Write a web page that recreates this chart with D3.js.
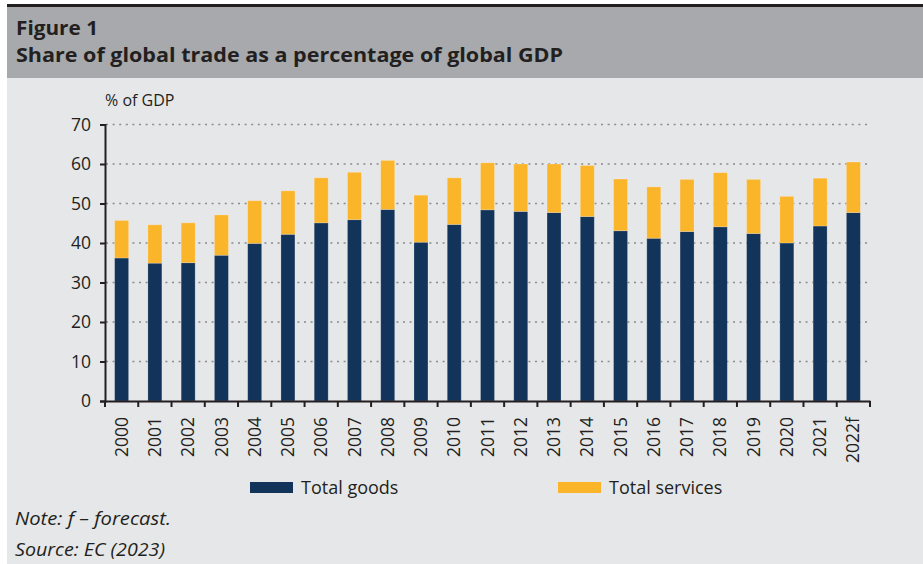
<!DOCTYPE html>
<html>
<head>
<meta charset="utf-8">
<script src="https://cdn.jsdelivr.net/npm/d3@7"></script>
<style>
  body { margin: 0; background: #fff; }
  svg { display: block; font-family: "Open Sans", sans-serif; }
</style>
</head>
<body>
<svg id="chart" width="923" height="564"></svg>
<script>
const years = ['2000', '2001', '2002', '2003', '2004', '2005', '2006', '2007', '2008', '2009', '2010', '2011',
  '2012', '2013', '2014', '2015', '2016', '2017', '2018', '2019', '2020', '2021', '2022f']
const goods = [36.2, 34.9, 35.0, 36.9, 39.9, 42.2, 45.1, 45.9, 48.5, 40.2, 44.7, 48.4,
  48.0, 47.7, 46.7, 43.1, 41.2, 42.9, 44.1, 42.4, 40.0, 44.3, 47.7]
const services = [9.5, 9.7, 10.1, 10.2, 10.8, 11.0, 11.4, 12.0, 12.4, 11.9, 11.8, 11.9,
  12.0, 12.3, 12.9, 13.1, 13.0, 13.2, 13.7, 13.7, 11.8, 12.1, 12.8]
const yTicks = [0, 10, 20, 30, 40, 50, 60, 70]
const seriesNames = ['Total goods', 'Total services']
const colors = ['#12345a', '#fbb52b']

const svg = d3.select('svg#chart')

// backgrounds
svg.append('rect').attr('x', 7).attr('y', 4).attr('width', 916).attr('height', 560).attr('fill', '#e6e7e8')
svg.append('rect').attr('x', 7).attr('y', 7).attr('width', 916).attr('height', 71).attr('fill', '#a7a9ac')
svg.append('rect').attr('x', 7).attr('y', 4).attr('width', 916).attr('height', 3).attr('fill', '#231f20')

svg.append('text').attr('x', 16).attr('y', 35)
  .attr('font-size', 20).attr('font-weight', 'bold').attr('fill', '#231f20')
  .attr('textLength', 82).attr('lengthAdjust', 'spacingAndGlyphs')
  .text('Figure 1')
svg.append('text').attr('x', 16).attr('y', 62)
  .attr('font-size', 20).attr('font-weight', 'bold').attr('fill', '#231f20')
  .attr('textLength', 547).attr('lengthAdjust', 'spacingAndGlyphs')
  .text('Share of global trade as a percentage of global GDP')

const rows = years.map((y, i) => ({ year: y, goods: goods[i], services: services[i] }))
const stack = d3.stack().keys(['goods', 'services'])(rows)

const x = d3.scaleBand().domain(years).range([105, 870]).paddingInner(0.58).paddingOuter(0.29)
const y = d3.scaleLinear().domain([0, 70]).range([401, 124.5])

// gridlines
svg.append('g')
  .selectAll('line')
  .data(yTicks.filter(t => t > 0))
  .enter()
  .append('line')
  .attr('x1', 106).attr('x2', 870)
  .attr('y1', d => y(d)).attr('y2', d => y(d))
  .attr('stroke', '#8a8b8d').attr('stroke-width', 1.4)
  .attr('stroke-dasharray', '2,4.6')

// bars
svg.append('g')
  .selectAll('g')
  .data(stack)
  .enter()
  .append('g')
  .attr('fill', (d, i) => colors[i])
  .selectAll('rect')
  .data(d => d)
  .enter()
  .append('rect')
  .attr('x', d => x(d.data.year))
  .attr('width', x.bandwidth())
  .attr('y', d => y(d[1]))
  .attr('height', d => y(d[0]) - y(d[1]))
  .attr('stroke', 'rgba(255,255,255,0.25)')
  .attr('stroke-width', 0.8)

// y axis
const yAxis = svg.append('g')
  .attr('transform', 'translate(105,0)')
  .call(d3.axisLeft(y).tickValues(yTicks).tickSize(5).tickPadding(9))
yAxis.select('.domain').attr('stroke', '#231f20').attr('stroke-width', 2)
yAxis.selectAll('.tick line').attr('stroke', '#231f20').attr('stroke-width', 2)
yAxis.selectAll('.tick text').attr('font-size', 17.5).attr('fill', '#231f20')
  .attr('font-family', '"Open Sans", sans-serif')

svg.append('text').attr('x', 105).attr('y', 106)
  .attr('font-size', 16).attr('fill', '#231f20')
  .text('% of GDP')

// x axis
const xAxis = svg.append('g')
  .attr('transform', 'translate(0,401)')
  .call(d3.axisBottom(x).tickSize(0).tickPadding(0))
xAxis.select('.domain').attr('stroke', '#231f20').attr('stroke-width', 2)
xAxis.selectAll('.tick text')
  .attr('font-size', 17.5).attr('fill', '#231f20')
  .attr('font-family', '"Open Sans", sans-serif')
  .attr('text-anchor', 'end')
  .attr('transform', 'rotate(-90)')
  .attr('x', -16).attr('y', 0).attr('dy', '0.35em')

const step = x.step()
xAxis.append('g')
  .selectAll('line')
  .data(d3.range(years.length + 1))
  .enter()
  .append('line')
  .attr('x1', i => 105 + i * step).attr('x2', i => 105 + i * step)
  .attr('y1', 0).attr('y2', 6)
  .attr('stroke', '#231f20').attr('stroke-width', 2)

// legend
const legendX = [250, 558]
const legend = svg.append('g')
  .selectAll('g')
  .data(seriesNames)
  .enter()
  .append('g')
  .attr('transform', (d, i) => `translate(${legendX[i]},482)`)
legend.append('rect').attr('width', 43).attr('height', 11).attr('fill', (d, i) => colors[i])
legend.append('text').attr('x', 51).attr('y', 12)
  .attr('font-size', 18).attr('fill', '#231f20')
  .text(d => d)

svg.append('text').attr('x', 15).attr('y', 525)
  .attr('font-size', 17.5).attr('font-style', 'italic').attr('fill', '#231f20')
  .attr('textLength', 156).attr('lengthAdjust', 'spacingAndGlyphs')
  .text('Note: f \u2013 forecast.')
svg.append('text').attr('x', 15).attr('y', 556)
  .attr('font-size', 17.5).attr('font-style', 'italic').attr('fill', '#231f20')
  .attr('textLength', 150).attr('lengthAdjust', 'spacingAndGlyphs')
  .text('Source: EC (2023)')
</script>
</body>
</html>
